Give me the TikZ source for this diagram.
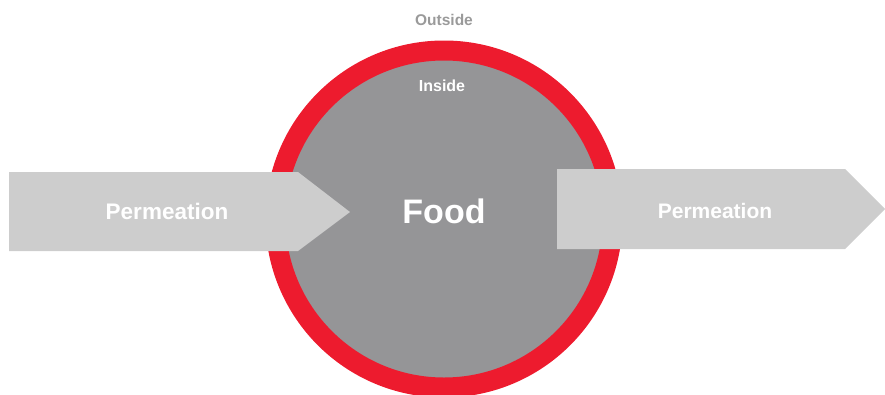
\documentclass[tikz,border=0pt]{standalone}
\usepackage{fontspec}
\setmainfont{Liberation Sans}
\usetikzlibrary{positioning}
\definecolor{ringred}{HTML}{ED1B2E}
\definecolor{foodgray}{HTML}{959597}
\definecolor{arrowgray}{HTML}{CDCDCD}
\definecolor{textgray}{HTML}{9A9A9A}
\tikzset{ring/.style = {shape = circle, draw = ringred, fill = foodgray, line width = 20pt, minimum size = 337pt, inner sep = 0pt}}
\tikzset{flow/.style = {fill = arrowgray}}
\tikzset{word/.style = {text = white, font = \bfseries, inner sep = 0pt}}

\begin{document}
\begin{tikzpicture}[x = 1pt, y = -1pt]
			\useasboundingbox (0, 0) rectangle (885, 394);

			\node[ring] (food) at (444, 219) {};
			\node[word, font = \fontsize{34}{34}\bfseries] (foodtxt) at (444, 211) {Food};
			\node[word, font = \fontsize{16}{16}\bfseries] (inside) at (442, 86) {Inside};
			\node[word, text = textgray, font = \fontsize{15.5}{16}\bfseries] (outside) at (444, 20) {Outside};

			\fill[flow] (9, 172) -- (298, 172) -- (350, 212) -- (298, 251) -- (9, 251) -- cycle;
			\fill[flow] (557, 169) -- (845, 169) -- (885, 209) -- (845, 249) -- (557, 249) -- cycle;

			\node[word, font = \fontsize{22.5}{23}\bfseries] (permin) at (167, 211) {Permeation};
			\node[word, font = \fontsize{21}{22}\bfseries] (permout) at (715, 211) {Permeation};
		\end{tikzpicture}
\end{document}
